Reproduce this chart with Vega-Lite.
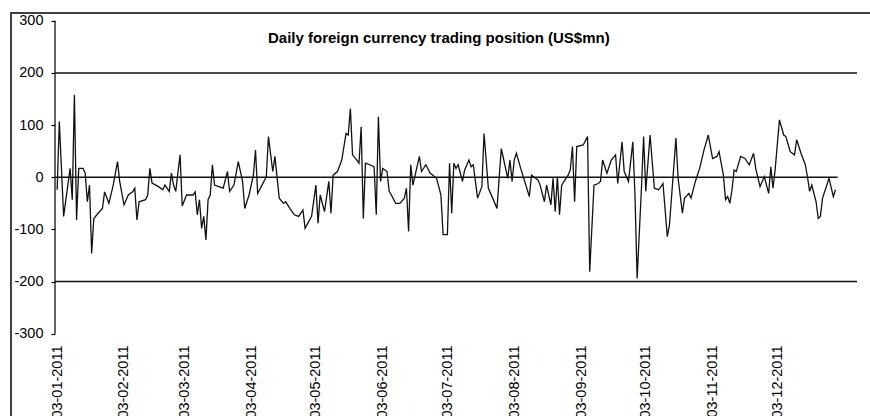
{
  "$schema": "https://vega.github.io/schema/vega-lite/v6.json",
  "autosize": {"type": "none"},
  "width": 865,
  "height": 409,
  "padding": {"left": 11, "top": 13, "right": -6, "bottom": -6},
  "background": "white",
  "title": {
    "text": "Daily foreign currency trading position (US$mn)",
    "anchor": "start",
    "frame": "group",
    "offset": -45,
    "baseline": "alphabetic",
    "font": "Liberation Sans",
    "fontSize": 15,
    "fontWeight": "bold",
    "color": "#000000",
    "dx": 257
  },
  "datasets": {
    "series": [
      {"d": "2011-01-03", "v": -24}, {"d": "2011-01-04", "v": 107}, {"d": "2011-01-06", "v": -75}, {"d": "2011-01-09", "v": 17},
      {"d": "2011-01-10", "v": -43}, {"d": "2011-01-11", "v": 158}, {"d": "2011-01-12", "v": -82}, {"d": "2011-01-13", "v": 17},
      {"d": "2011-01-15", "v": 17}, {"d": "2011-01-16", "v": 8}, {"d": "2011-01-17", "v": -47}, {"d": "2011-01-18", "v": -15},
      {"d": "2011-01-19", "v": -146}, {"d": "2011-01-20", "v": -79}, {"d": "2011-01-22", "v": -69}, {"d": "2011-01-24", "v": -60},
      {"d": "2011-01-25", "v": -28}, {"d": "2011-01-27", "v": -50}, {"d": "2011-01-29", "v": -15}, {"d": "2011-01-31", "v": 30},
      {"d": "2011-02-01", "v": -8}, {"d": "2011-02-03", "v": -53}, {"d": "2011-02-05", "v": -34}, {"d": "2011-02-07", "v": -28},
      {"d": "2011-02-08", "v": -21}, {"d": "2011-02-09", "v": -82}, {"d": "2011-02-10", "v": -47}, {"d": "2011-02-13", "v": -43},
      {"d": "2011-02-14", "v": -34}, {"d": "2011-02-15", "v": 17}, {"d": "2011-02-16", "v": -11}, {"d": "2011-02-19", "v": -18},
      {"d": "2011-02-21", "v": -24}, {"d": "2011-02-22", "v": -15}, {"d": "2011-02-24", "v": -27}, {"d": "2011-02-25", "v": 8},
      {"d": "2011-02-26", "v": -15}, {"d": "2011-02-27", "v": -27}, {"d": "2011-03-01", "v": 43}, {"d": "2011-03-02", "v": -55},
      {"d": "2011-03-04", "v": -34}, {"d": "2011-03-07", "v": -34}, {"d": "2011-03-08", "v": -28}, {"d": "2011-03-09", "v": -72},
      {"d": "2011-03-10", "v": -43}, {"d": "2011-03-11", "v": -98}, {"d": "2011-03-12", "v": -75}, {"d": "2011-03-13", "v": -120},
      {"d": "2011-03-14", "v": -43}, {"d": "2011-03-15", "v": -34}, {"d": "2011-03-16", "v": 24}, {"d": "2011-03-17", "v": -15},
      {"d": "2011-03-19", "v": -18}, {"d": "2011-03-21", "v": -21}, {"d": "2011-03-23", "v": 11}, {"d": "2011-03-24", "v": -27},
      {"d": "2011-03-26", "v": -15}, {"d": "2011-03-28", "v": 30}, {"d": "2011-03-30", "v": -8}, {"d": "2011-03-31", "v": -60},
      {"d": "2011-04-02", "v": -34}, {"d": "2011-04-04", "v": 4}, {"d": "2011-04-05", "v": 52}, {"d": "2011-04-06", "v": -31},
      {"d": "2011-04-08", "v": -15}, {"d": "2011-04-10", "v": 1}, {"d": "2011-04-11", "v": 78}, {"d": "2011-04-13", "v": 11},
      {"d": "2011-04-14", "v": 40}, {"d": "2011-04-16", "v": -40}, {"d": "2011-04-18", "v": -50}, {"d": "2011-04-19", "v": -47},
      {"d": "2011-04-21", "v": -60}, {"d": "2011-04-23", "v": -72}, {"d": "2011-04-25", "v": -75}, {"d": "2011-04-27", "v": -63},
      {"d": "2011-04-28", "v": -98}, {"d": "2011-05-01", "v": -75}, {"d": "2011-05-03", "v": -15}, {"d": "2011-05-04", "v": -88},
      {"d": "2011-05-05", "v": -34}, {"d": "2011-05-07", "v": -66}, {"d": "2011-05-09", "v": -8}, {"d": "2011-05-10", "v": -69},
      {"d": "2011-05-11", "v": 4}, {"d": "2011-05-13", "v": 11}, {"d": "2011-05-15", "v": 33}, {"d": "2011-05-17", "v": 84},
      {"d": "2011-05-18", "v": 81}, {"d": "2011-05-19", "v": 132}, {"d": "2011-05-20", "v": 43}, {"d": "2011-05-22", "v": 33},
      {"d": "2011-05-23", "v": 27}, {"d": "2011-05-24", "v": 97}, {"d": "2011-05-25", "v": -79}, {"d": "2011-05-26", "v": 27},
      {"d": "2011-05-28", "v": 24}, {"d": "2011-05-30", "v": 20}, {"d": "2011-05-31", "v": -72}, {"d": "2011-06-01", "v": 116},
      {"d": "2011-06-02", "v": -8}, {"d": "2011-06-03", "v": 17}, {"d": "2011-06-05", "v": 11}, {"d": "2011-06-06", "v": -27},
      {"d": "2011-06-07", "v": -34}, {"d": "2011-06-09", "v": -50}, {"d": "2011-06-11", "v": -50}, {"d": "2011-06-13", "v": -40},
      {"d": "2011-06-14", "v": -21}, {"d": "2011-06-15", "v": -104}, {"d": "2011-06-16", "v": 24}, {"d": "2011-06-17", "v": -15},
      {"d": "2011-06-20", "v": 40}, {"d": "2011-06-21", "v": 11}, {"d": "2011-06-23", "v": 24}, {"d": "2011-06-25", "v": 8},
      {"d": "2011-06-28", "v": -2}, {"d": "2011-06-30", "v": -34}, {"d": "2011-07-01", "v": -110}, {"d": "2011-07-03", "v": -110},
      {"d": "2011-07-04", "v": 27}, {"d": "2011-07-05", "v": -69}, {"d": "2011-07-06", "v": 27}, {"d": "2011-07-07", "v": 17},
      {"d": "2011-07-08", "v": 24}, {"d": "2011-07-10", "v": -8}, {"d": "2011-07-11", "v": 14}, {"d": "2011-07-13", "v": 33},
      {"d": "2011-07-14", "v": 20}, {"d": "2011-07-15", "v": 24}, {"d": "2011-07-16", "v": -8}, {"d": "2011-07-17", "v": -40},
      {"d": "2011-07-19", "v": -18}, {"d": "2011-07-20", "v": 84}, {"d": "2011-07-22", "v": -21}, {"d": "2011-07-24", "v": -40},
      {"d": "2011-07-26", "v": -60}, {"d": "2011-07-27", "v": -2}, {"d": "2011-07-28", "v": 55}, {"d": "2011-07-29", "v": 36},
      {"d": "2011-07-31", "v": -2}, {"d": "2011-08-01", "v": 33}, {"d": "2011-08-02", "v": -8}, {"d": "2011-08-03", "v": 33},
      {"d": "2011-08-04", "v": 46}, {"d": "2011-08-06", "v": 17}, {"d": "2011-08-10", "v": -37}, {"d": "2011-08-11", "v": 4},
      {"d": "2011-08-14", "v": -5}, {"d": "2011-08-15", "v": -15}, {"d": "2011-08-17", "v": -47}, {"d": "2011-08-18", "v": -15},
      {"d": "2011-08-20", "v": -53}, {"d": "2011-08-21", "v": -2}, {"d": "2011-08-22", "v": -66}, {"d": "2011-08-23", "v": 1},
      {"d": "2011-08-24", "v": -72}, {"d": "2011-08-25", "v": -15}, {"d": "2011-08-28", "v": 4}, {"d": "2011-08-29", "v": 14},
      {"d": "2011-08-30", "v": 59}, {"d": "2011-08-31", "v": -47}, {"d": "2011-09-01", "v": 59}, {"d": "2011-09-04", "v": 62},
      {"d": "2011-09-06", "v": 78}, {"d": "2011-09-07", "v": -181}, {"d": "2011-09-09", "v": -15}, {"d": "2011-09-11", "v": -12},
      {"d": "2011-09-12", "v": -8}, {"d": "2011-09-13", "v": 33}, {"d": "2011-09-15", "v": 8}, {"d": "2011-09-17", "v": 33},
      {"d": "2011-09-19", "v": 43}, {"d": "2011-09-20", "v": -12}, {"d": "2011-09-22", "v": 68}, {"d": "2011-09-23", "v": 11},
      {"d": "2011-09-25", "v": -8}, {"d": "2011-09-27", "v": 68}, {"d": "2011-09-28", "v": -34}, {"d": "2011-09-29", "v": -194},
      {"d": "2011-10-01", "v": -21}, {"d": "2011-10-02", "v": 78}, {"d": "2011-10-03", "v": -27}, {"d": "2011-10-05", "v": 81},
      {"d": "2011-10-07", "v": -21}, {"d": "2011-10-09", "v": -24}, {"d": "2011-10-11", "v": -12}, {"d": "2011-10-13", "v": -114},
      {"d": "2011-10-14", "v": -91}, {"d": "2011-10-17", "v": 75}, {"d": "2011-10-18", "v": -2}, {"d": "2011-10-20", "v": -69},
      {"d": "2011-10-21", "v": -40}, {"d": "2011-10-23", "v": -31}, {"d": "2011-10-24", "v": -40}, {"d": "2011-10-26", "v": -8},
      {"d": "2011-10-28", "v": 17}, {"d": "2011-10-30", "v": 52}, {"d": "2011-11-01", "v": 81}, {"d": "2011-11-03", "v": 36},
      {"d": "2011-11-05", "v": 40}, {"d": "2011-11-06", "v": 49}, {"d": "2011-11-08", "v": 4}, {"d": "2011-11-09", "v": -43},
      {"d": "2011-11-10", "v": -37}, {"d": "2011-11-11", "v": -50}, {"d": "2011-11-12", "v": -24}, {"d": "2011-11-13", "v": 14},
      {"d": "2011-11-14", "v": 11}, {"d": "2011-11-16", "v": 40}, {"d": "2011-11-18", "v": 36}, {"d": "2011-11-20", "v": 24},
      {"d": "2011-11-22", "v": 46}, {"d": "2011-11-23", "v": 17}, {"d": "2011-11-25", "v": -18}, {"d": "2011-11-26", "v": -8},
      {"d": "2011-11-27", "v": 1}, {"d": "2011-11-29", "v": -31}, {"d": "2011-11-30", "v": 20}, {"d": "2011-12-01", "v": -21},
      {"d": "2011-12-02", "v": 14}, {"d": "2011-12-04", "v": 110}, {"d": "2011-12-06", "v": 81}, {"d": "2011-12-07", "v": 78},
      {"d": "2011-12-09", "v": 49}, {"d": "2011-12-11", "v": 43}, {"d": "2011-12-12", "v": 72}, {"d": "2011-12-14", "v": 46},
      {"d": "2011-12-16", "v": 24}, {"d": "2011-12-17", "v": 1}, {"d": "2011-12-18", "v": -27}, {"d": "2011-12-19", "v": -15},
      {"d": "2011-12-21", "v": -47}, {"d": "2011-12-22", "v": -79}, {"d": "2011-12-23", "v": -75}, {"d": "2011-12-24", "v": -40},
      {"d": "2011-12-27", "v": -2}, {"d": "2011-12-29", "v": -37}, {"d": "2011-12-30", "v": -24}
    ],
    "refs": [
      {"s": "2011-01-02", "e": "2011-12-31", "y": 0},
      {"s": "2011-01-02", "e": "2012-01-09", "y": 200},
      {"s": "2011-01-02", "e": "2012-01-09", "y": -200}
    ],
    "yaxis": [
      {"x": "2011-01-02", "lo": -300, "hi": 300}
    ]
  },
  "layer": [
    {
      "data": {"name": "refs"},
      "mark": {"type": "rule", "color": "#111111", "strokeWidth": 1.4},
      "encoding": {
        "x": {
          "field": "s", "type": "temporal", "title": null,
          "scale": {"type": "utc", "domain": [{"year": 2010, "month": 12, "date": 12, "hours": 14, "minutes": 10, "utc": true}, {"year": 2012, "month": 1, "date": 17, "hours": 19, "utc": true}]},
          "axis": {
            "values": [
              {"year": 2011, "month": 1, "date": 3, "utc": true},
              {"year": 2011, "month": 2, "date": 3, "utc": true},
              {"year": 2011, "month": 3, "date": 3, "utc": true},
              {"year": 2011, "month": 4, "date": 3, "utc": true},
              {"year": 2011, "month": 5, "date": 3, "utc": true},
              {"year": 2011, "month": 6, "date": 3, "utc": true},
              {"year": 2011, "month": 7, "date": 3, "utc": true},
              {"year": 2011, "month": 8, "date": 3, "utc": true},
              {"year": 2011, "month": 9, "date": 3, "utc": true},
              {"year": 2011, "month": 10, "date": 3, "utc": true},
              {"year": 2011, "month": 11, "date": 3, "utc": true},
              {"year": 2011, "month": 12, "date": 3, "utc": true}
            ],
            "format": "%d-%m-%Y",
            "labelAngle": 270,
            "ticks": false,
            "domain": false,
            "grid": false,
            "labelPadding": 0,
            "offset": -77,
            "labelFont": "Liberation Sans",
            "labelFontSize": 14.5,
            "labelColor": "#000000",
            "labelOverlap": false,
            "labelFlush": false,
            "labelBound": false
          }
        },
        "x2": {"field": "e"},
        "y": {
          "field": "y", "type": "quantitative", "title": null,
          "scale": {"domain": [-469.3, 315], "nice": false, "zero": false},
          "axis": {
            "values": [-300, -200, -100, 0, 100, 200, 300],
            "labelExpr": "'' + datum.value",
            "domain": false,
            "grid": false,
            "tickSize": 4,
            "tickColor": "#000000",
            "tickWidth": 1.2,
            "labelPadding": 8,
            "offset": -44,
            "labelFont": "Liberation Sans",
            "labelFontSize": 14.5,
            "labelColor": "#000000",
            "labelOverlap": false,
            "labelFlush": false,
            "labelBound": false
          }
        }
      }
    },
    {
      "data": {"name": "yaxis"},
      "mark": {"type": "rule", "color": "#111111", "strokeWidth": 1.3},
      "encoding": {
        "x": {"field": "x", "type": "temporal", "title": null},
        "y": {"field": "lo", "type": "quantitative", "title": null},
        "y2": {"field": "hi"}
      }
    },
    {
      "data": {"name": "series"},
      "mark": {"type": "line", "color": "#111111", "strokeWidth": 1.3},
      "encoding": {
        "x": {"field": "d", "type": "temporal", "title": null},
        "y": {"field": "v", "type": "quantitative", "title": null}
      }
    }
  ],
  "config": {
    "view": {"stroke": "#404040", "strokeWidth": 2}
  }
}
